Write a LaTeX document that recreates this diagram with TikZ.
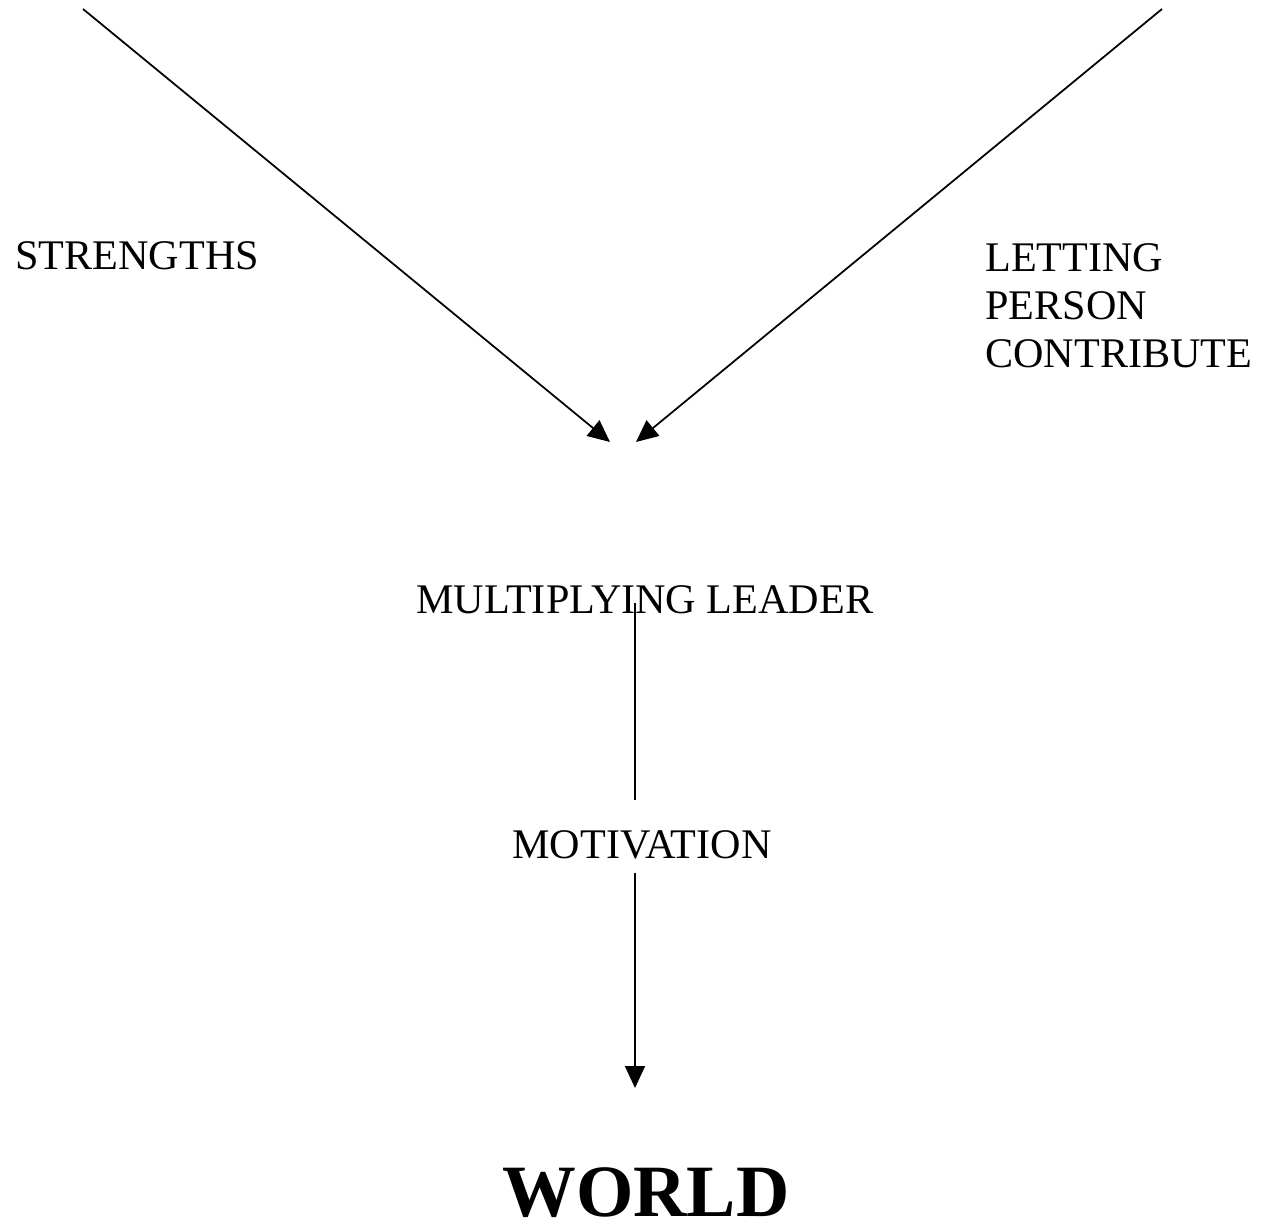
\documentclass[tikz,border=0pt]{standalone}
\usepackage{fontspec}
\setmainfont{Liberation Serif}
\usetikzlibrary{arrows.meta}

\begin{document}
\begin{tikzpicture}[x=0.02cm, y=-0.02cm,
    >={Triangle[length=0.44cm, width=0.4cm]},
    lbl/.style={anchor=base west, inner sep=0pt, align=left,
                font=\fontsize{24}{27.5}\selectfont},
    ln/.style={line width=1pt}]

  %% Page frame
  \useasboundingbox (0,0) rectangle (1265,1226);

  %% Labels (base of a stacked label = its last line)
  \node[lbl] (strengths) at (15,270) {STRENGTHS};
  \node[lbl] (letting)   at (985,368) {LETTING\\PERSON\\CONTRIBUTE};
  \node[lbl] (leader)    at (416,613) {MULTIPLYING LEADER};
  \node[lbl] (motiv)     at (512,858) {MOTIVATION};
  \node[anchor=base, inner sep=0pt,
        font=\bfseries\fontsize{42}{50}\selectfont] (world) at (646,1216)
    {WORLD};

  %% Free ends of the connectors
  \coordinate (sTop)   at (83,9);
  \coordinate (sTip)   at (610,442);
  \coordinate (lTop)   at (1162,9);
  \coordinate (lTip)   at (636,442);
  \coordinate (ldOut)  at (635,603);
  \coordinate (mvIn)   at (635,800);
  \coordinate (mvOut)  at (635,873);
  \coordinate (wdIn)   at (635,1088);

  %% Connectors
  \draw[ln,->] (sTop) -- (sTip);
  \draw[ln,->] (lTop) -- (lTip);
  \draw[ln]    (ldOut) -- (mvIn);
  \draw[ln,->] (mvOut) -- (wdIn);
\end{tikzpicture}
\end{document}
